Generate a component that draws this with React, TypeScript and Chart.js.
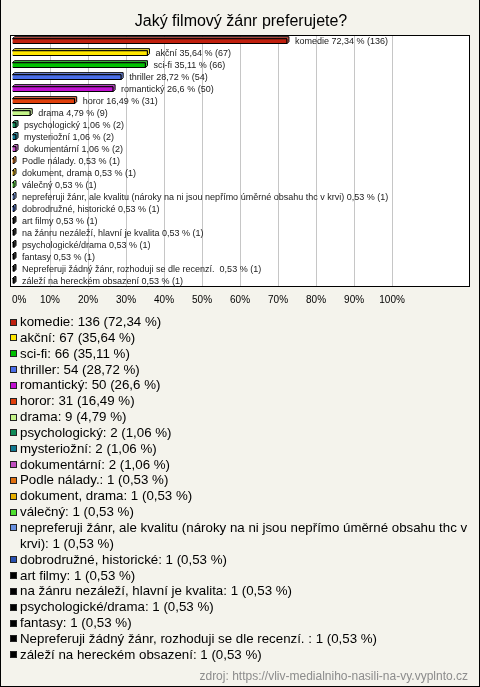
import React, { useEffect, useRef } from 'react';
import { Chart, registerables } from 'chart.js';

Chart.register(...registerables);

const chartTitle = 'Jaký filmový žánr preferujete?';
const sourceText = 'zdroj: https://vliv-medialniho-nasili-na-vy.vyplnto.cz';

const categories = [
  'komedie',
  'akční',
  'sci-fi',
  'thriller',
  'romantický',
  'horor',
  'drama',
  'psychologický',
  'mysteriožní',
  'dokumentární',
  'Podle nálady.',
  'dokument, drama',
  'válečný',
  'nepreferuji žánr, ale kvalitu (nároky na ni jsou nepřímo úměrné obsahu thc v krvi)',
  'dobrodružné, historické',
  'art filmy',
  'na žánru nezáleží, hlavní je kvalita',
  'psychologické/drama',
  'fantasy',
  'Nepreferuji žádný žánr, rozhoduji se dle recenzí. ',
  'záleží na hereckém obsazení',
];

const counts = [136, 67, 66, 54, 50, 31, 9, 2, 2, 2, 1, 1, 1, 1, 1, 1, 1, 1, 1, 1, 1];

const percents = [72.34, 35.64, 35.11, 28.72, 26.6, 16.49, 4.79, 1.06, 1.06, 1.06, 0.53, 0.53, 0.53, 0.53, 0.53, 0.53, 0.53, 0.53, 0.53, 0.53, 0.53];

const colors = [
  '#c0200e',
  '#ffe600',
  '#00c000',
  '#4a6ee8',
  '#c010d0',
  '#e0400c',
  '#c4f488',
  '#108a58',
  '#107890',
  '#c050c0',
  '#e07010',
  '#e8b000',
  '#50e030',
  '#6890e0',
  '#2850b0',
  '#000000',
  '#000000',
  '#000000',
  '#000000',
  '#000000',
  '#000000',
];

const tickLabels = ['0%', '10%', '20%', '30%', '40%', '50%', '60%', '70%', '80%', '90%', '100%'];

const fmt = (p: number) => String(p).replace('.', ',');

function lighten(hex: string, amt: number) {
  const n = parseInt(hex.slice(1), 16);
  const r = (n >> 16) & 255;
  const g = (n >> 8) & 255;
  const b = n & 255;
  const f = (c: number) => Math.round(c + (255 - c) * amt);
  return `rgb(${f(r)},${f(g)},${f(b)})`;
}

const plotFrame = {
  id: 'plotFrame',
  beforeDraw(chart: any) {
    const { ctx, chartArea } = chart;
    const { left, top, right, bottom } = chartArea;
    ctx.save();
    ctx.fillStyle = '#ffffff';
    ctx.fillRect(left - 2, top, right - left + 2, bottom - top);
    ctx.restore();
  },
  afterDraw(chart: any) {
    const { ctx, chartArea } = chart;
    const { left, top, right, bottom } = chartArea;
    ctx.save();
    ctx.strokeStyle = '#000000';
    ctx.lineWidth = 1;
    ctx.strokeRect(Math.round(left) - 1.5, Math.round(top) + 0.5, Math.round(right) - Math.round(left) + 1, Math.round(bottom) - Math.round(top) - 1);
    ctx.restore();
  },
};

const bar3d = {
  id: 'bar3d',
  beforeDatasetsDraw(chart: any) {
    const { ctx } = chart;
    const meta = chart.getDatasetMeta(0);
    const d = 2;
    meta.data.forEach((el: any, i: number) => {
      const { x, y, base, height } = el.getProps(['x', 'y', 'base', 'height'], true);
      const top = y - height / 2;
      const bot = y + height / 2;
      ctx.save();
      ctx.fillStyle = lighten(colors[i], 0.25);
      ctx.strokeStyle = '#000000';
      ctx.lineWidth = 1;
      ctx.beginPath();
      ctx.moveTo(base, top);
      ctx.lineTo(base + d, top - d);
      ctx.lineTo(x + d, top - d);
      ctx.lineTo(x + d, bot - d);
      ctx.lineTo(x, bot);
      ctx.lineTo(x, top);
      ctx.closePath();
      ctx.fill();
      ctx.stroke();
      ctx.restore();
    });
  },
  afterDatasetsDraw(chart: any) {
    const { ctx } = chart;
    const meta = chart.getDatasetMeta(0);
    ctx.save();
    ctx.font = '9px Arial, "Liberation Sans", sans-serif';
    ctx.fillStyle = '#1a1a1a';
    ctx.textBaseline = 'middle';
    ctx.textAlign = 'left';
    meta.data.forEach((el: any, i: number) => {
      const { x, y } = el.getProps(['x', 'y'], true);
      ctx.fillText(`${categories[i]} ${fmt(percents[i])} % (${counts[i]})`, x + 8, y + 0.5);
    });
    ctx.restore();
  },
};

function ChartCanvas() {
  const ref = useRef<HTMLCanvasElement | null>(null);
  useEffect(() => {
    if (!ref.current) return;
    const chart = new Chart(ref.current, {
      type: 'bar',
      data: {
        labels: categories,
        datasets: [
          {
            data: percents,
            backgroundColor: colors,
            borderColor: '#000000',
            borderWidth: 1,
            barThickness: 5,
          },
        ],
      },
      options: {
        indexAxis: 'y',
        animation: false,
        responsive: false,
        maintainAspectRatio: false,
        devicePixelRatio: 1,
        layout: { padding: { left: 12, right: 10, top: 0, bottom: 0 } },
        plugins: {
          legend: { display: false },
          tooltip: { enabled: false },
          title: {
            display: true,
            text: chartTitle,
            color: '#000000',
            font: { family: 'Arial, "Liberation Sans", sans-serif', size: 16, weight: 'normal' },
            padding: { top: 12, bottom: 4 },
          },
        },
        scales: {
          x: {
            min: 0,
            max: 120.5,
            border: { display: false },
            grid: {
              drawTicks: false,
              color: (c: any) => (c.tick && c.tick.value > 0 && c.tick.value <= 100 ? '#c6c6c6' : 'rgba(0,0,0,0)'),
            },
            ticks: {
              stepSize: 10,
              autoSkip: false,
              maxRotation: 0,
              align: 'inner',
              padding: 7,
              color: '#000000',
              font: { family: 'Arial, "Liberation Sans", sans-serif', size: 10 },
              callback: (_v: any, i: number) => tickLabels[i] ?? '',
            },
            afterFit: (s: any) => {
              s.height = 33;
            },
          },
          y: { display: false },
        },
      } as any,
      plugins: [plotFrame, bar3d],
    });
    return () => chart.destroy();
  }, []);
  return <canvas ref={ref} width={480} height={320} style={{ position: 'absolute', left: 0, top: 0, width: 480, height: 320 }} />;
}

export default function App() {
  return (
    <div
      style={{
        position: 'absolute',
        left: 0,
        top: 0,
        width: 480,
        height: 687,
        background: '#f4f3ec',
        boxShadow: 'inset 1px 0 0 #000, inset -1px 0 0 #000, inset 0 -1px 0 #000',
        overflow: 'hidden',
        fontFamily: 'Arial, "Liberation Sans", sans-serif',
      }}
    >
      <ChartCanvas />
      <div style={{ position: 'absolute', left: 0, top: 314, width: 472 }}>
        {categories.map((c, i) => (
          <div key={i} style={{ display: 'flex', alignItems: 'flex-start' }}>
            <span
              style={{
                flex: '0 0 auto',
                width: 7,
                height: 7,
                boxSizing: 'border-box',
                border: '1px solid #222',
                background: colors[i],
                marginLeft: 10,
                marginRight: 3,
                marginTop: 4.5,
              }}
            />
            <span style={{ fontSize: 13.3, lineHeight: '15.85px', color: '#000' }}>
              {`${c}: ${counts[i]} (${fmt(percents[i])} %)`}
            </span>
          </div>
        ))}
      </div>
      <div
        style={{
          position: 'absolute',
          right: 12,
          top: 669,
          fontSize: 12,
          lineHeight: '14px',
          color: '#8c8c8c',
          whiteSpace: 'nowrap',
        }}
      >
        {sourceText}
      </div>
    </div>
  );
}
